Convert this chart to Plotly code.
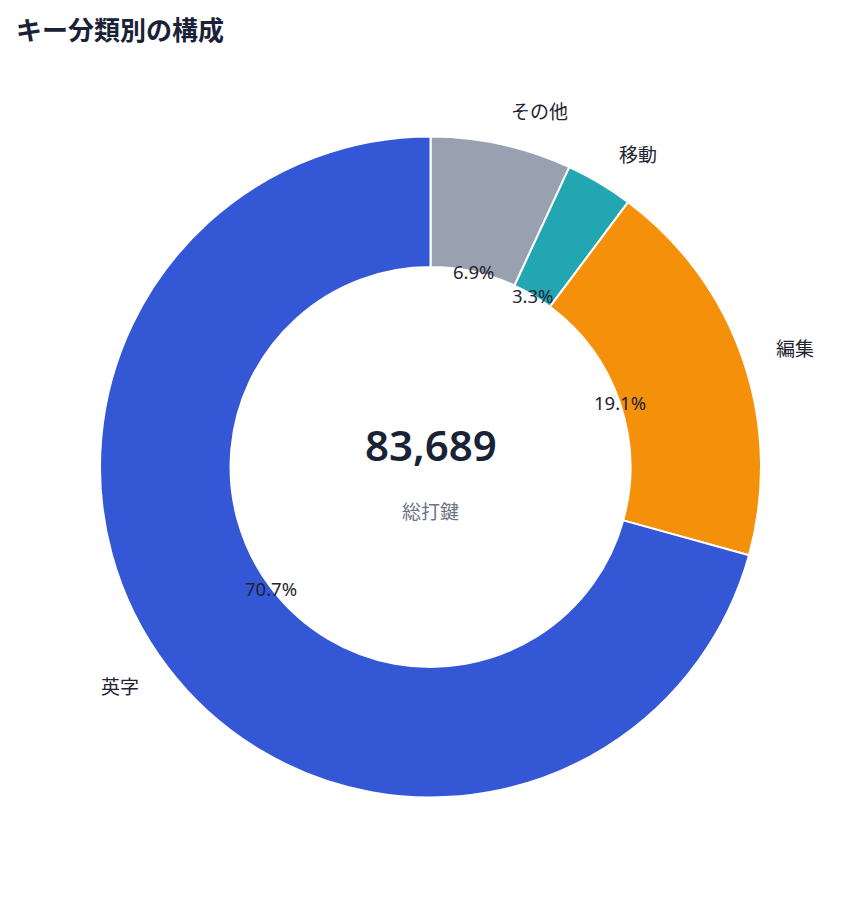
import math
import plotly.graph_objects as go

labels = ["英字", "編集", "移動", "その他"]
values = [59168, 15985, 2762, 5774]
colors = ["#3457D5", "#F5900A", "#22A7B2", "#99A1B0"]
total_label = "83,689"
center_caption = "総打鍵"
title_text = "キー分類別の構成"

W, H = 861, 898
ML, MR, MT, MB = 92, 108, 128, 108
PW, PH = W - ML - MR, H - MT - MB
HOLE = 0.605
FONT = "Noto Sans, Noto Sans CJK JP, sans-serif"
TXT = "#1E2433"

# slices run counterclockwise from 12 o'clock in list order
fig = go.Figure(go.Pie(
    labels=labels[::-1], values=values[::-1], hole=HOLE, sort=False,
    direction="clockwise", rotation=0,
    marker=dict(colors=colors[::-1], line=dict(color="white", width=2)),
    textinfo="none", hoverinfo="label+percent+value", showlegend=False,
))

tot = sum(values)
R = min(PW, PH) / 2
cx, cy = 0.5, 0.5
ann = []
cum = 0
for lab, v in zip(labels, values):
    frac = v / tot
    th = math.radians(90 + (cum + frac / 2) * 360)
    cum += frac
    c, s = math.cos(th), math.sin(th)
    ri = R * HOLE
    ann.append(dict(x=cx + ri * c / PW, y=cy + ri * s / PH, xref="paper", yref="paper",
                    text=f"{frac*100:.1f}%", showarrow=False,
                    font=dict(size=18.5, color=TXT, family=FONT),
                    xanchor="center", yanchor="middle"))
    ro = R * 1.1
    ann.append(dict(x=cx + ro * c / PW, y=cy + ro * s / PH, xref="paper", yref="paper",
                    text=lab, showarrow=False,
                    font=dict(size=19, color=TXT, family=FONT),
                    xanchor="left" if c >= 0 else "right", yanchor="middle"))

ann.append(dict(x=0.5, y=0.5 + 23 / PH, xref="paper", yref="paper", text=total_label,
                showarrow=False, font=dict(size=42, color="#1A2236", family=FONT, weight=600),
                xanchor="center", yanchor="middle"))
ann.append(dict(x=0.5, y=0.5 - 45 / PH, xref="paper", yref="paper", text=center_caption,
                showarrow=False, font=dict(size=19, color="#6B7385", family=FONT),
                xanchor="center", yanchor="middle"))

fig.update_layout(
    width=W, height=H,
    margin=dict(l=ML, r=MR, t=MT, b=MB),
    paper_bgcolor="white", plot_bgcolor="white",
    title=dict(text=f"<b>{title_text}</b>", x=0, xref="container", xanchor="left",
               y=1, yref="container", yanchor="top", pad=dict(l=8, t=14),
               font=dict(size=26, color="#1A2236", family=FONT)),
    annotations=ann,
    font=dict(family=FONT),
)

fig.write_html("out.html")
